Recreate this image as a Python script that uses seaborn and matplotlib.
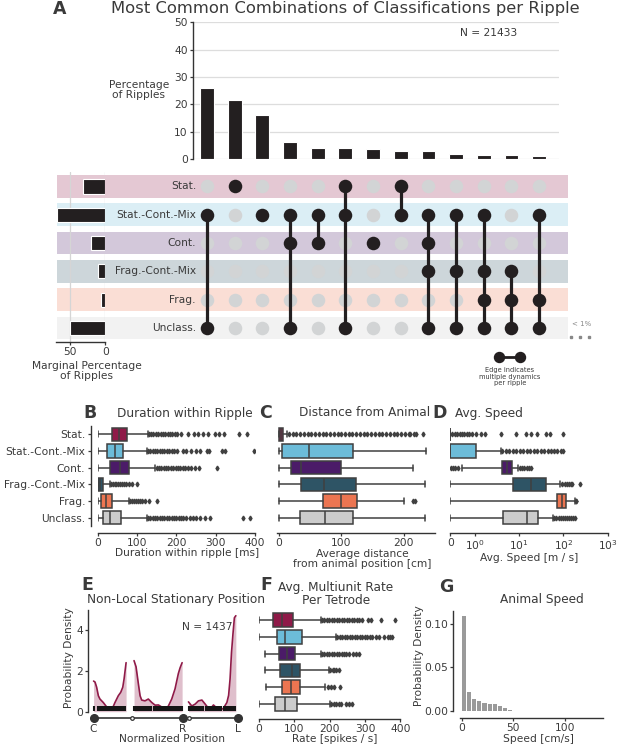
import numpy as np
import pandas as pd
import matplotlib
matplotlib.use("Agg")
import matplotlib.pyplot as plt
import seaborn as sns
from matplotlib.patches import Rectangle
from matplotlib.lines import Line2D
from matplotlib.transforms import blended_transform_factory as blend

# ---------------- data ----------------
states = ["Stat.", "Stat.-Cont.-Mix", "Cont.", "Frag.-Cont.-Mix", "Frag.", "Unclass."]
state_colors = ["#8f1a48", "#6cbcd9", "#4b1b68", "#2e5465", "#ec7551", "#cccccc"]

combo_pct = [25.8, 21.7, 16.0, 6.3, 4.2, 4.2, 3.6, 3.0, 2.9, 1.9, 1.3, 1.3, 1.2]
combo_members = [
    ["Stat.-Cont.-Mix", "Unclass."],
    ["Stat."],
    ["Stat.-Cont.-Mix"],
    ["Stat.-Cont.-Mix", "Cont.", "Unclass."],
    ["Stat.-Cont.-Mix", "Cont."],
    ["Stat.", "Stat.-Cont.-Mix", "Unclass."],
    ["Cont."],
    ["Stat.", "Stat.-Cont.-Mix"],
    ["Stat.-Cont.-Mix", "Cont.", "Frag.-Cont.-Mix", "Unclass."],
    ["Stat.-Cont.-Mix", "Frag.-Cont.-Mix", "Unclass."],
    ["Stat.-Cont.-Mix", "Frag.-Cont.-Mix", "Frag.", "Unclass."],
    ["Frag.-Cont.-Mix", "Frag.", "Unclass."],
    ["Stat.-Cont.-Mix", "Frag.", "Unclass."],
]
marginal_pct = [31, 69, 20, 10, 5.6, 50]
n_ripples = 21433

# box stats: [whislo, q1, median, q3, whishi]
dur_stats = [[0, 36, 55, 74, 127], [0, 23, 44, 64, 125], [0, 31, 57, 79, 147],
             [0, 0, 5, 13, 31], [0, 9, 22, 36, 79], [0, 13, 31, 59, 125]]
dur_fliers = [
    [130, 136, 142, 148, 154, 160, 166, 172, 178, 184, 190, 196, 203, 212, 229, 245, 256, 269, 280, 298, 308, 321, 360, 380],
    [128, 134, 140, 146, 152, 158, 164, 170, 176, 182, 188, 195, 203, 216, 225, 238, 251, 260, 277, 282, 317, 324, 398],
    [150, 156, 162, 168, 174, 180, 186, 192, 198, 204, 210, 216, 222, 230, 238, 247, 257, 304],
    [33, 38, 43, 48, 53, 58, 63, 68, 72, 79, 87, 99],
    [82, 87, 92, 97, 102, 107, 112, 120, 130, 151],
    [128, 134, 140, 146, 152, 158, 164, 170, 176, 182, 188, 194, 200, 206, 212, 216, 225, 234, 243, 251, 260, 273, 286, 369, 387],
]
dist_stats = [[0, 0.5, 3, 7, 13.5], [0, 5.4, 49, 119, 236], [0, 19.5, 35, 99, 215],
              [0, 35, 73, 123, 233.5], [0, 71, 99, 125, 200], [0, 33.5, 74, 119, 233.5]]
dist_fliers = [
    [16, 22, 28, 34, 40, 46, 52, 58, 64, 70, 76, 82, 88, 94, 100, 106, 112, 118, 124, 130, 136, 142, 148,
     154, 160, 166, 172, 178, 184, 190, 196, 202, 208, 211, 216, 220, 231],
    [], [], [], [215, 219], [],
]
speed_stats = [[0, 0, 0, 0, 0], [0, 0, 0, 1.09, 3.9], [0.5, 4.2, 5.3, 7.0, 9.5],
               [0, 7.3, 18.2, 40.6, 84.8], [0, 72, 91.7, 115, 182], [0, 4.3, 15.3, 27, 58.5]]
speed_fliers = [
    [0.08, 0.18, 0.28, 0.38, 0.48, 0.58, 0.68, 0.78, 0.9, 1.09, 1.39, 1.7, 3.9, 8.5, 14.2, 18.3, 25, 41.5, 49, 100],
    [4.2, 5, 6, 7.2, 8.6, 10.3, 12.4, 14.9, 17.9, 21.5, 25.8, 31, 37, 44, 53, 63, 72, 87, 100],
    [0.03, 0.12, 0.2, 0.3, 10.5, 11.8, 13.2, 14.8, 16.5, 18.3],
    [95, 107, 120, 135, 150, 159, 234],
    [190, 196],
    [63, 70, 78, 87, 97, 108, 120, 134, 149, 165, 182],
]
rate_stats = [[0, 41, 66, 96, 174], [0, 51, 74, 121, 218], [16, 56, 80, 103, 174],
              [18, 58, 92, 117, 198], [21, 66, 91, 117, 188], [0, 46, 74, 108, 201]]
rate_fliers = [
    [178, 185, 192, 199, 206, 213, 220, 227, 234, 241, 248, 255, 262, 269, 276, 283, 290, 308, 317, 345, 386],
    [222, 229, 236, 243, 250, 257, 264, 271, 278, 285, 292, 299, 306, 313, 320, 331, 340, 353, 364, 371, 376],
    [178, 185, 192, 199, 206, 213, 220, 227, 234, 241, 246, 256, 265, 275, 284],
    [202, 208, 213, 218, 226],
    [195, 204, 213, 230],
    [205, 212, 219, 226, 232, 246, 256, 263],
]

# non-local stationary position density (three track arms)
arm1_pos = [0.0, 0.01, 0.021, 0.033, 0.044, 0.067, 0.091, 0.114, 0.125, 0.137, 0.148, 0.171, 0.188, 0.202, 0.211, 0.218, 0.225]
arm1_dens = [1.5, 1.45, 1.2, 0.78, 0.62, 0.45, 0.23, 0.13, 0.15, 0.27, 0.45, 0.78, 0.95, 1.2, 1.6, 2.0, 2.4]
arm2_pos = [0.280, 0.294, 0.310, 0.322, 0.333, 0.356, 0.379, 0.403, 0.426, 0.449, 0.472, 0.495, 0.518, 0.541, 0.564, 0.587, 0.599, 0.613]
arm2_dens = [2.5, 2.2, 1.37, 0.78, 0.57, 0.53, 0.62, 0.45, 0.32, 0.33, 0.23, 0.1, 0.28, 0.62, 1.12, 1.87, 2.15, 2.4]
arm3_pos = [0.657, 0.680, 0.703, 0.726, 0.750, 0.773, 0.795, 0.819, 0.830, 0.854, 0.877, 0.899, 0.923, 0.935, 0.945, 0.955, 0.965, 0.975, 0.985]
arm3_dens = [0.48, 0.28, 0.37, 0.53, 0.57, 0.37, 0.17, 0.23, 0.33, 0.17, 0.07, 0.17, 0.45, 0.8, 1.6, 2.9, 3.8, 4.6, 4.7]
rug_pos = [0.004, 0.03, 0.04, 0.05, 0.06, 0.075, 0.085, 0.095, 0.105, 0.115, 0.12, 0.13, 0.14, 0.15, 0.16, 0.17,
           0.18, 0.19, 0.2, 0.21, 0.22,
           0.282, 0.29, 0.30, 0.31, 0.32, 0.335, 0.345, 0.355, 0.37, 0.38, 0.39, 0.40, 0.415, 0.43, 0.44, 0.455,
           0.47, 0.48, 0.49, 0.50, 0.51, 0.52, 0.53, 0.545, 0.555, 0.565, 0.575, 0.585, 0.595, 0.605, 0.612,
           0.66, 0.67, 0.68, 0.695, 0.705, 0.715, 0.73, 0.74, 0.75, 0.76, 0.775, 0.79, 0.80, 0.81, 0.82, 0.835,
           0.85, 0.86, 0.87, 0.885, 0.90, 0.91, 0.92, 0.93, 0.94, 0.95, 0.955, 0.96, 0.965, 0.97, 0.975, 0.98]
n_nonlocal = 1437
well_pos = [0.0, 0.617, 1.0]
well_labels = ["C", "R", "L"]
junction_pos = [0.263, 0.662]

speed_bin_left = [0, 5, 10, 15, 20, 25, 30, 35, 40, 45]
speed_density = [0.109, 0.022, 0.0131, 0.0108, 0.0093, 0.0081, 0.0073, 0.0058, 0.0035, 0.0008]

# ---------------- style ----------------
sns.set_theme(style="ticks", context="paper")
TXT = "#3a3a3a"
EDGE = "#404040"
DOT = "#231f20"
plt.rcParams["font.family"] = ["DejaVu Sans"]
plt.rcParams.update({
    "font.size": 7.7, "axes.labelsize": 7.7, "xtick.labelsize": 7.7, "ytick.labelsize": 7.7,
    "text.color": TXT, "axes.labelcolor": TXT, "xtick.color": TXT, "ytick.color": TXT,
    "axes.edgecolor": "#333333", "axes.linewidth": 1.0,
    "xtick.major.size": 2.5, "ytick.major.size": 2.5, "xtick.major.pad": 1.0, "ytick.major.pad": 1.5,
    "xtick.major.width": 0.9, "ytick.major.width": 0.9,
})
TITLE_FS = 8.7
LETTER_FS = 12.5

W, H = 617, 747
fig = plt.figure(figsize=(W / 100, H / 100), dpi=100)


def rect(l, t, r, b):
    return [l / W, 1 - b / H, (r - l) / W, (b - t) / H]


def ftext(x, y, s, **kw):
    kw.setdefault("ha", "center")
    kw.setdefault("va", "center")
    fig.text(x / W, 1 - y / H, s, **kw)


# ---------------- Panel A: bars ----------------
axA = fig.add_axes(rect(193.2, 22.3, 558.5, 159))
dfA = pd.DataFrame({"combo": [str(i) for i in range(len(combo_pct))], "pct": combo_pct})
sns.barplot(data=dfA, x="combo", y="pct", color=DOT, saturation=1, width=0.5, errorbar=None, ax=axA)
axA.set_xlim(-0.5, 12.7)
axA.set_ylim(0, 50)
axA.set_yticks([0, 10, 20, 30, 40, 50])
axA.set_xticks([])
axA.set_xlabel("")
axA.set_ylabel("")
axA.yaxis.grid(True, color="#dddddd", lw=0.9)
axA.set_axisbelow(True)
for s in ["top", "right", "bottom"]:
    axA.spines[s].set_visible(False)

# ---------------- Panel A: matrix ----------------
axM = fig.add_axes(rect(193.2, 172.3, 558.5, 342))
axM.set_facecolor("none")
grid = pd.DataFrame([(c, r, states[r] in combo_members[c]) for c in range(len(combo_members))
                     for r in range(len(states))], columns=["col", "row", "member"])
sns.scatterplot(data=grid[~grid.member], x="col", y="row", color="#d2d4d5", s=95, linewidth=0, ax=axM, zorder=2)
for c, mem in enumerate(combo_members):
    rows = [states.index(m) for m in mem]
    if len(rows) > 1:
        axM.plot([c, c], [min(rows), max(rows)], color=DOT, lw=2.3, zorder=3, solid_capstyle="butt")
sns.scatterplot(data=grid[grid.member], x="col", y="row", color=DOT, s=95, linewidth=0, ax=axM, zorder=4)
axM.set_xlim(-0.5, 12.7)
axM.set_ylim(5.5, -0.5)
axM.axis("off")

band_tr = blend(fig.transFigure, axM.transData)
for i, c in enumerate(state_colors):
    fig.add_artist(Rectangle((57 / W, i - 0.4), 511 / W, 0.8, transform=band_tr,
                             facecolor=c, alpha=0.24, lw=0, zorder=-1))
    axM.text(196 / W, i, states[i], transform=band_tr, ha="right", va="center",
             fontsize=7.7, color=TXT, clip_on=False)

# marginal bars
axG0 = fig.add_axes(rect(56, 172.3, 105.3, 342))
axG0.set_facecolor("none")
dfM = pd.DataFrame({"state": states, "pct": marginal_pct})
sns.barplot(data=dfM, y="state", x="pct", orient="h", color=DOT, saturation=1, width=0.5,
            errorbar=None, ax=axG0)
axG0.set_xlim(70, 0)
axG0.set_ylim(5.5, -0.5)
axG0.set_yticks([])
axG0.set_xticks([50, 0])
axG0.set_xlabel("")
axG0.set_ylabel("")
axG0.xaxis.grid(True, color="#d5d5d5", lw=0.9)
axG0.set_axisbelow(True)
for s in ["top", "right", "left"]:
    axG0.spines[s].set_visible(False)
ftext(86.7, 371, "Marginal Percentage\nof Ripples", linespacing=1.05)

ftext(60, 9, "A", fontsize=LETTER_FS, fontweight="bold")
ftext(345, 9, "Most Common Combinations of Classifications per Ripple", fontsize=11.8)
ftext(489, 33, f"N = {n_ripples}")
ftext(139, 90, "Percentage\nof Ripples", linespacing=1.05)

# legend-ish annotations
ftext(582, 324, "< 1%", fontsize=5, color="#888888")
fig.add_artist(Line2D([570.7 / W, 580 / W, 589.3 / W], [1 - 337 / H] * 3, transform=fig.transFigure,
                      ls="none", marker="s", ms=1.6, color="#888888"))
fig.add_artist(Line2D([499.3 / W, 520 / W], [1 - 356.7 / H] * 2, transform=fig.transFigure,
                      color=DOT, lw=2, marker="o", ms=7.2))
ftext(510, 376.5, "Edge indicates\nmultiple dynamics\nper ripple", fontsize=4.8, linespacing=1.15)


# ---------------- box panels ----------------
def boxes(ax, stats_list, fliers_list):
    stats = [dict(whislo=s[0], q1=s[1], med=s[2], q3=s[3], whishi=s[4], fliers=f)
             for s, f in zip(stats_list, fliers_list)]
    kw = dict(positions=list(range(len(stats))), widths=0.8, patch_artist=True, showfliers=True,
              capwidths=0.35,
              boxprops=dict(edgecolor=EDGE, linewidth=1.1),
              medianprops=dict(color=EDGE, linewidth=1.1),
              whiskerprops=dict(color=EDGE, linewidth=1.1),
              capprops=dict(color=EDGE, linewidth=1.1),
              flierprops=dict(marker="d", markersize=2.4, markerfacecolor=EDGE,
                              markeredgecolor=EDGE, linestyle="none"))
    try:
        bp = ax.bxp(stats, orientation="horizontal", **kw)
    except TypeError:
        bp = ax.bxp(stats, vert=False, **kw)
    for patch, c in zip(bp["boxes"], state_colors):
        patch.set_facecolor(c)
    ax.set_ylim(len(stats) - 0.5, -0.5)


# B
axB = fig.add_axes(rect(97.6, 426, 255, 526))
boxes(axB, dur_stats, dur_fliers)
axB.set_xlim(0, 400)
axB.set_xticks([0, 100, 200, 300, 400])
axB.set_yticks(range(6))
axB.set_yticklabels(states)
sns.despine(ax=axB, offset=5)

# C
axC = fig.add_axes(rect(277, 426, 434.8, 526))
boxes(axC, dist_stats, dist_fliers)
axC.set_xlim(-3, 250)
axC.set_xticks([0, 100, 200])
axC.set_yticks([])
sns.despine(ax=axC, offset=5, left=True)

# D
axD = fig.add_axes(rect(450.2, 426, 607.6, 526))
axD.set_xscale("symlog", linthresh=1, linscale=0.5)
boxes(axD, speed_stats, speed_fliers)
axD.set_xlim(0, 1000)
axD.set_xticks([0, 1, 10, 100, 1000])
axD.set_xticklabels(["0", r"$10^0$", r"$10^1$", r"$10^2$", r"$10^3$"])
axD.xaxis.set_minor_locator(matplotlib.ticker.NullLocator())
axD.set_yticks([])
sns.despine(ax=axD, offset=5, left=True)

ftext(90, 413, "B", fontsize=LETTER_FS, fontweight="bold")
ftext(185, 413, "Duration within Ripple", fontsize=TITLE_FS)
ftext(266, 413, "C", fontsize=LETTER_FS, fontweight="bold")
ftext(364.5, 413, "Distance from Animal", fontsize=TITLE_FS)
ftext(440, 413, "D", fontsize=LETTER_FS, fontweight="bold")
ftext(489, 413, "Avg. Speed", fontsize=TITLE_FS)
ftext(187, 553, "Duration within ripple [ms]")
ftext(362, 559, "Average distance\nfrom animal position [cm]", linespacing=1.05)
ftext(529, 558, "Avg. Speed [m / s]")

# ---------------- E ----------------
axE = fig.add_axes(rect(88.4, 609.6, 238, 711.7))
for pos, dens in [(arm1_pos, arm1_dens), (arm2_pos, arm2_dens), (arm3_pos, arm3_dens)]:
    axE.fill_between(pos, dens, color=state_colors[0], alpha=0.28, lw=0)
    sns.lineplot(x=pos, y=dens, color=state_colors[0], lw=1.2, ax=axE)
axE.vlines(rug_pos, 0.03, 0.3, colors="#151515", lw=1.5)
axE.set_xlim(-0.036, 1.0)
axE.set_ylim(0, 5)
axE.set_yticks([0, 2, 4])
axE.set_xticks(well_pos)
axE.set_xticklabels(well_labels)
axE.tick_params(axis="x", length=0, pad=9)
for s in ["top", "right", "bottom"]:
    axE.spines[s].set_visible(False)
ty = -0.3
axE.plot([well_pos[0], well_pos[1]], [ty, ty], color="#333333", lw=1.2, clip_on=False)
axE.plot([junction_pos[1], well_pos[2]], [ty, ty], color="#333333", lw=1.2, clip_on=False)
axE.plot(well_pos, [ty] * 3, ls="none", marker="o", ms=5.5, color="#333333", clip_on=False)
axE.plot(junction_pos, [ty] * 2, ls="none", marker="o", ms=2.6, mfc="white", mec="#333333",
         mew=0.9, clip_on=False)
ftext(207, 627, f"N = {n_nonlocal}")
ftext(87.6, 585, "E", fontsize=LETTER_FS, fontweight="bold")
ftext(176, 600, "Non-Local Stationary Position", fontsize=TITLE_FS)
ftext(172, 739, "Normalized Position")
ftext(68.5, 658, "Probability Density", rotation=90)

# ---------------- F ----------------
axF = fig.add_axes(rect(259, 611.6, 400.4, 712.4))
boxes(axF, rate_stats, rate_fliers)
axF.set_xlim(0, 400)
axF.set_xticks([0, 100, 200, 300, 400])
axF.set_yticks([])
sns.despine(ax=axF, offset=5, left=True)
ftext(266, 585, "F", fontsize=LETTER_FS, fontweight="bold")
ftext(336, 593.5, "Avg. Multiunit Rate\nPer Tetrode", fontsize=TITLE_FS, linespacing=1.0)
ftext(335, 739, "Rate [spikes / s]")

# ---------------- G ----------------
axG = fig.add_axes(rect(460.2, 611, 603.1, 710.7))
axG.bar(speed_bin_left, speed_density, width=4, align="edge", color="#9a9a9a", lw=0)
axG.set_xlim(-1.5, 137)
axG.set_ylim(0, 0.115)
axG.set_xticks([0, 50, 100])
axG.set_yticks([0, 0.05, 0.10])
axG.yaxis.set_major_formatter(matplotlib.ticker.FormatStrFormatter("%.2f"))
axG.tick_params(axis="y", pad=1.0)
sns.despine(ax=axG, offset=5)
ftext(446, 587, "G", fontsize=LETTER_FS, fontweight="bold")
ftext(542, 600, "Animal Speed", fontsize=TITLE_FS)
ftext(538, 739, "Speed [cm/s]")
ftext(419, 656, "Probability Density", rotation=90)

fig.savefig("out.png", dpi=100)
